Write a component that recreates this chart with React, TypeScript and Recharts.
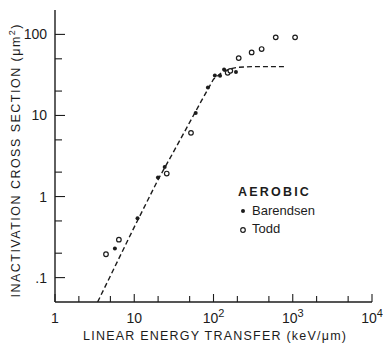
import React from 'react'
import { ScatterChart, Scatter, XAxis, YAxis, Legend } from 'recharts'

const FONT = '"Liberation Sans", Arial, sans-serif'
const INK = '#1c1c1c'

// Barendsen (filled dots)
const barendsenLET = [5.7, 11, 19.9, 24.2, 59.6, 85, 104, 121, 136, 192]
const barendsenSigma = [0.228, 0.54, 1.72, 2.32, 10.7, 22.2, 31.2, 31, 37, 34.3]

// Todd (open circles)
const toddLET = [4.4, 6.4, 25.7, 52, 151, 163, 208, 303, 405, 610, 1070]
const toddSigma = [0.194, 0.294, 1.92, 6.1, 33.6, 35.5, 51, 60, 66, 92, 92]

// dashed curve
const fitLET = [3.45, 5, 10, 20, 30, 50, 70, 100, 130, 160, 200, 300, 500, 800]
const fitSigma = [0.05, 0.105, 0.42, 1.62, 3.3, 8.2, 15, 28, 34.5, 37.5, 39.2, 40, 40, 40]

// axis ticks
const xMajor = [1, 10, 100, 1000, 10000]
const xMinor = [2, 5, 20, 50, 200, 500, 2000, 5000]
const yMajor = [0.1, 1, 10, 100]
const yMinor = [0.2, 0.5, 2, 5, 20, 50]
const yLabels: Record<string, string> = { '0.1': '.1', '1': '1', '10': '10', '100': '100' }

const xTicks = [...xMajor, ...xMinor].sort((a, b) => a - b)
const yTicks = [...yMajor, ...yMinor].sort((a, b) => a - b)

const toPoints = (xs: number[], ys: number[]) => xs.map((x, i) => ({ x, y: ys[i] }))
const barendsen = toPoints(barendsenLET, barendsenSigma)
const todd = toPoints(toddLET, toddSigma)
const fit = toPoints(fitLET, fitSigma)

const BottomTick = ({ x, y, payload }: any) => {
  const v = payload.value
  const major = xMajor.includes(v)
  const exp = Math.round(Math.log10(v))
  return (
    <g>
      <line x1={x} x2={x} y1={y} y2={y - (major ? 8 : 6)} stroke={INK} strokeWidth={1.1} />
      {major && (
        <text x={x} y={y + 21} textAnchor="middle" fontFamily={FONT} fontSize={14} fill={INK}>
          {exp < 2 ? String(v) : '10'}
          {exp >= 2 && (
            <tspan dy={-6} fontSize={11}>{exp}</tspan>
          )}
        </text>
      )}
    </g>
  )
}

const TopTick = ({ x, y, payload }: any) => {
  const major = xMajor.includes(payload.value)
  return <line x1={x} x2={x} y1={y} y2={y + (major ? 8 : 5)} stroke={INK} strokeWidth={1.1} />
}

const LeftTick = ({ x, y, payload }: any) => {
  const v = payload.value
  const major = yMajor.includes(v)
  return (
    <g>
      <line x1={x} x2={x + (major ? 10 : 7)} y1={y} y2={y} stroke={INK} strokeWidth={1.1} />
      {major && (
        <text x={x - 8} y={y + 5} textAnchor="end" fontFamily={FONT} fontSize={14} fill={INK}>
          {yLabels[String(v)]}
        </text>
      )}
    </g>
  )
}

const RightTick = ({ x, y, payload }: any) => {
  const major = yMajor.includes(payload.value)
  return <line x1={x} x2={x - (major ? 10 : 7)} y1={y} y2={y} stroke={INK} strokeWidth={1.1} />
}

const XTitle = ({ viewBox }: any) => (
  <text
    x={viewBox.x + viewBox.width / 2 + 1}
    y={viewBox.y + 38}
    textAnchor="middle"
    fontFamily={FONT}
    fontSize={12.5}
    fill={INK}
    textLength={263}
    lengthAdjust="spacing"
  >
    LINEAR ENERGY TRANSFER (keV/μm)
  </text>
)

const YTitle = ({ viewBox }: any) => {
  const cx = 20
  const cy = viewBox.y + viewBox.height / 2 + 5
  return (
    <text
      x={cx}
      y={cy}
      transform={`rotate(-90 ${cx} ${cy})`}
      textAnchor="middle"
      fontFamily={FONT}
      fontSize={12.5}
      fill={INK}
      textLength={273}
      lengthAdjust="spacing"
    >
      INACTIVATION CROSS SECTION (μm
      <tspan dy={-5} fontSize={9}>2</tspan>
      <tspan dy={5}>)</tspan>
    </text>
  )
}

const FilledDot = (p: any) => <circle cx={p.cx} cy={p.cy} r={2} fill={INK} />
const OpenDot = (p: any) => (
  <circle cx={p.cx} cy={p.cy} r={2.3} fill="#fff" stroke={INK} strokeWidth={1.2} />
)

const LegendBox = () => (
  <div style={{ fontFamily: FONT, fontSize: 13, lineHeight: '18.7px', color: INK }}>
    <div style={{ letterSpacing: 2.2, fontWeight: 'bold', fontSize: 12.5 }}>AEROBIC</div>
    <div>
      <svg width={14} height={10} style={{ verticalAlign: 'middle' }}>
        <circle cx={5} cy={5} r={2} fill={INK} />
      </svg>
      Barendsen
    </div>
    <div>
      <svg width={14} height={10} style={{ verticalAlign: 'middle' }}>
        <circle cx={5} cy={5} r={2.3} fill="#fff" stroke={INK} strokeWidth={1.2} />
      </svg>
      Todd
    </div>
  </div>
)

export default function App() {
  return (
    <div style={{ position: 'absolute', left: 0, top: 0, background: '#fff' }}>
      <ScatterChart width={383} height={343} margin={{ top: 10, right: 11, bottom: 0, left: 0 }}>
        <XAxis
          dataKey="x"
          type="number"
          scale="log"
          domain={[1, 10000]}
          allowDataOverflow
          ticks={xTicks}
          interval={0}
          tickSize={0}
          tickMargin={0}
          tickLine={false}
          tick={<BottomTick />}
          height={41}
          axisLine={{ stroke: INK, strokeWidth: 1.4 }}
          label={<XTitle />}
        />
        <XAxis
          xAxisId="top"
          orientation="top"
          type="number"
          scale="log"
          domain={[1, 10000]}
          allowDataOverflow
          ticks={xTicks}
          interval={0}
          tickSize={0}
          tickMargin={0}
          tickLine={false}
          tick={<TopTick />}
          height={0}
          axisLine={{ stroke: INK, strokeWidth: 1.4 }}
        />
        <YAxis
          dataKey="y"
          type="number"
          scale="log"
          domain={[0.05, 200]}
          allowDataOverflow
          ticks={yTicks}
          interval={0}
          tickSize={0}
          tickMargin={0}
          tickLine={false}
          tick={<LeftTick />}
          width={55}
          axisLine={{ stroke: INK, strokeWidth: 1.4 }}
          label={<YTitle />}
        />
        <YAxis
          yAxisId="right"
          orientation="right"
          type="number"
          scale="log"
          domain={[0.05, 200]}
          allowDataOverflow
          ticks={yTicks}
          interval={0}
          tickSize={0}
          tickMargin={0}
          tickLine={false}
          tick={<RightTick />}
          width={0}
          axisLine={{ stroke: INK, strokeWidth: 1.4 }}
        />
        <Scatter
          name="fit"
          data={fit}
          line={{ stroke: INK, strokeWidth: 1.4, strokeDasharray: '5 3' }}
          shape={() => <g />}
          legendType="none"
          isAnimationActive={false}
        />
        <Scatter name="Barendsen" data={barendsen} shape={FilledDot} isAnimationActive={false} />
        <Scatter name="Todd" data={todd} shape={OpenDot} isAnimationActive={false} />
        <Legend
          layout="vertical"
          align="center"
          verticalAlign="middle"
          content={<LegendBox />}
          wrapperStyle={{ left: 238, top: 183, width: 120, height: 60 }}
        />
      </ScatterChart>
    </div>
  )
}
